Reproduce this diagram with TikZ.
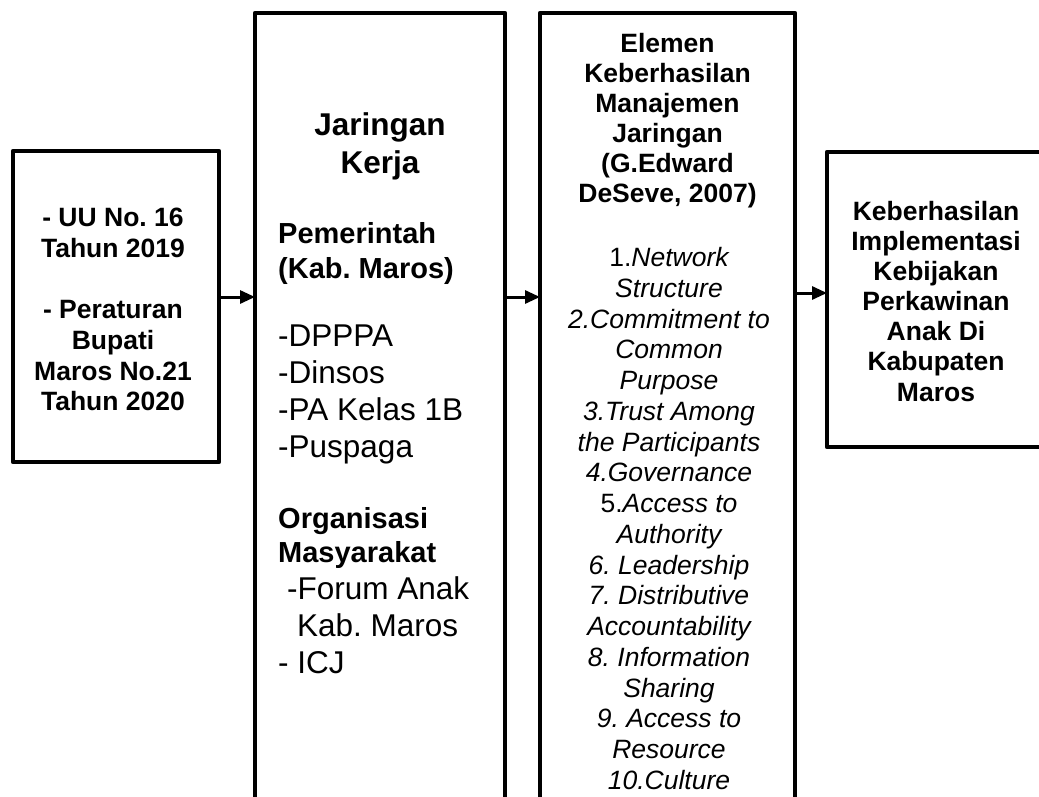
\documentclass[tikz,border=0pt]{standalone}
\usepackage{fontspec}
\setmainfont{Liberation Sans}
\frenchspacing
\usetikzlibrary{arrows.meta}

\begin{document}
\begin{tikzpicture}[x=1pt,y=-1pt,line join=round,
  frame/.style={draw,line width=4.5pt,inner sep=0pt,outer sep=0pt},
  link/.style={line width=3pt,-{Triangle[length=15pt,width=13pt]}},
  txt/.style={inner sep=0pt,anchor=base,align=center},
  lefttxt/.style={inner sep=0pt,anchor=base west,align=left}]
  \useasboundingbox (0,0) rectangle (1039,797);
  \clip (0,0) rectangle (1039,797);
  % boxes
  \node[frame,minimum width=206pt,minimum height=311pt] (reg) at (116,306.5) {};
  \node[frame,minimum width=250pt,minimum height=817pt] (net) at (380,421.5) {};
  \node[frame,minimum width=255pt,minimum height=817pt] (elem) at (667.5,421.5) {};
  \node[frame,minimum width=218pt,minimum height=295pt] (goal) at (936,299.5) {};
  % arrows
  \draw[link] (reg.east |- 0,297) -- (net.west |- 0,297);
  \draw[link] (net.east |- 0,297) -- (elem.west |- 0,297);
  \draw[link] (elem.east |- 0,293) -- (goal.west |- 0,293);
  % regulations (anchor = last baseline)
  \node[txt,font=\bfseries\fontsize{26.5}{30.7}\selectfont] (regtxt) at (113,410.7)
    {- UU No. 16\\Tahun 2019\\[30.7pt]- Peraturan\\Bupati\\Maros No.21\\Tahun 2020};
  % network
  \node[txt,font=\bfseries\fontsize{31.5}{37}\selectfont] (nettitle) at (380,173) {Jaringan\\Kerja};
  \node[lefttxt,font=\bfseries\fontsize{29}{34.5}\selectfont] (govhead) at (278,278) {Pemerintah\\(Kab. Maros)};
  \node[lefttxt,font=\fontsize{31.5}{37}\selectfont] (govlist) at (278,457) {-DPPPA\\-Dinsos\\-PA Kelas 1B\\-Puspaga};
  \node[lefttxt,font=\bfseries\fontsize{29}{34}\selectfont] (orghead) at (278,562.5) {Organisasi\\Masyarakat};
  \node[lefttxt,font=\fontsize{31.5}{37}\selectfont] (orglist) at (278,673)
    {\hspace*{9pt}-Forum Anak\\\hspace*{19pt}Kab. Maros\\- ICJ};
  % elements
  \node[txt,font=\bfseries\fontsize{26.5}{30}\selectfont] (elemhead) at (667.5,202.5)
    {Elemen\\Keberhasilan\\Manajemen\\Jaringan\\(G.Edward\\DeSeve, 2007)};
  \node[txt,font=\itshape\fontsize{26.5}{30.75}\selectfont] (elemlist) at (669,789.25)
    {\textup{1.}Network\\Structure\\2.Commitment to\\Common\\Purpose\\3.Trust Among\\the Participants\\
     4.Governance\\\textup{5.}Access to\\Authority\\6. Leadership\\7. Distributive\\Accountability\\
     8. Information\\Sharing\\9. Access to\\Resource\\10.Culture};
  % outcome
  \node[txt,font=\bfseries\fontsize{26.5}{30.1}\selectfont] (goaltxt) at (936,401)
    {Keberhasilan\\Implementasi\\Kebijakan\\Perkawinan\\Anak Di\\Kabupaten\\Maros};
\end{tikzpicture}
\end{document}
